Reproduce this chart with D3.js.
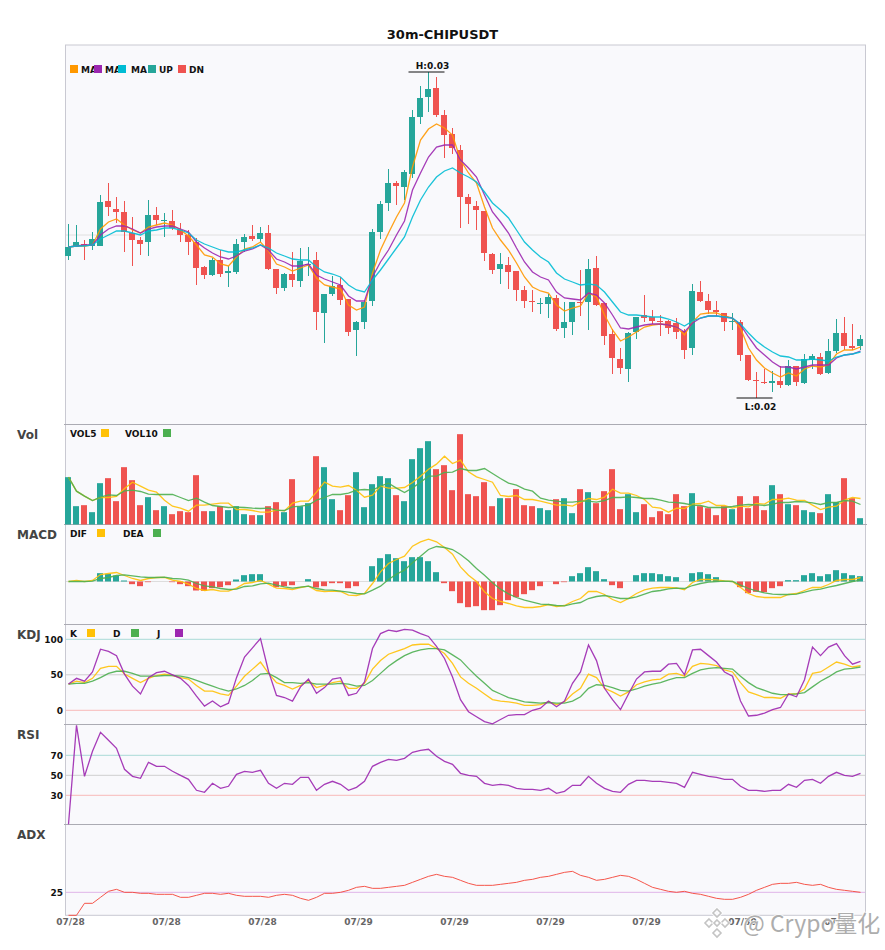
<!DOCTYPE html>
<html>
<head>
<meta charset="utf-8">
<script src="https://cdn.jsdelivr.net/npm/d3@7"></script>
<style>
  html, body { margin: 0; padding: 0; background: #fff; }
  svg { display: block; font-family: "DejaVu Sans", sans-serif; }
  .domain { display: none; }
</style>
</head>
<body>
<svg id="chart" width="885" height="950"></svg>
<script>
// Values. Price has no readable axis, so it is in relative points.
const opens = [169,178,181,179,179,224,216,213,192,185,183,210,204,204,195,190,183,158,150,165,152,153,183,189,186,192,156,137,151,144,160,165,112,131,140,126,95,103,124,193,222,242,238,251,308,328,337,310,291,275,228,219,214,171,156,160,154,135,124,121,121,127,97,103,123,123,157,122,91,66,56,93,110,108,104,104,102,94,77,133,124,115,112,103,103,70,45,43,42,44,40,59,42,65,68,52,74,92,79,79];
const closes = [178,183,179,186,223,218,213,193,185,181,210,205,205,197,190,183,157,150,165,151,154,181,188,186,192,156,137,151,145,164,161,113,131,139,125,93,103,123,193,221,242,239,253,308,327,336,310,290,277,228,221,215,172,155,161,153,135,124,123,122,128,96,103,123,122,156,120,89,67,57,92,108,107,104,103,97,93,75,134,124,115,113,103,104,70,45,44,42,44,40,59,43,66,69,51,74,92,79,77,86];
const highs = [201,200,185,193,230,242,228,224,208,188,225,218,212,215,202,195,187,159,167,175,159,186,191,200,198,200,156,152,173,177,178,173,131,149,148,126,104,125,196,224,256,244,255,315,339,353,348,315,297,280,231,224,214,172,172,168,154,139,135,127,131,130,123,123,155,166,169,122,96,77,93,108,130,115,110,105,107,96,141,144,131,124,112,112,105,70,53,56,54,59,65,59,71,71,72,86,106,108,101,90];
const lows = [165,178,165,175,179,209,202,173,159,170,169,200,188,195,183,170,140,146,149,148,138,151,173,184,183,155,131,134,138,138,149,95,82,129,120,89,69,96,119,186,214,220,225,247,301,313,308,267,271,197,201,195,164,151,141,136,124,117,113,111,107,94,87,90,109,95,119,80,51,51,43,86,103,101,89,91,86,66,70,123,111,109,94,95,64,44,27,41,33,37,39,39,41,56,50,51,72,75,75,75];
const ma5 = [178,179,179,180,196,203,206,200,195,192,198,200,202,200,195,189,180,170,168,161,159,168,176,178,183,174,161,158,154,157,160,147,140,138,136,120,115,118,152,175,192,208,222,258,285,296,301,297,290,265,252,242,218,197,185,175,162,148,138,134,132,120,114,117,119,132,128,110,95,84,88,93,98,100,101,100,98,90,103,111,112,112,109,107,97,77,65,57,52,48,52,49,56,59,58,60,71,75,75,78];
const ma10 = [178,179,180,180,190,196,199,199,196,192,196,198,199,199,196,193,183,177,172,168,166,169,174,176,180,175,166,163,159,159,161,150,146,143,140,129,124,124,148,163,175,190,204,235,252,268,278,280,280,265,257,248,230,213,203,192,177,163,153,148,145,133,127,126,125,132,130,122,110,97,96,98,100,101,101,100,98,93,102,107,109,109,108,107,100,88,77,70,63,58,58,56,58,60,60,60,67,70,71,74];
const ma20 = [178,179,179,180,186,190,194,194,192,190,194,195,197,197,195,192,185,181,178,175,173,173,175,177,180,177,172,169,166,165,165,158,153,151,148,140,135,133,145,155,166,177,188,208,225,238,248,254,257,252,248,243,233,222,215,207,195,183,175,168,163,152,146,143,140,141,140,133,123,113,110,110,109,108,108,106,103,99,104,107,109,109,108,107,101,92,84,78,73,69,68,65,65,66,65,64,68,70,71,73];

const volume = [142,55,58,37,124,139,70,172,133,58,82,43,55,31,40,37,148,40,40,55,43,55,31,28,28,55,67,37,136,55,64,205,172,76,43,88,157,52,121,145,139,88,70,196,229,250,166,178,103,271,91,85,127,55,79,79,106,58,55,49,43,76,79,34,106,97,64,100,166,46,91,37,61,22,40,31,91,55,94,55,49,28,55,46,85,49,85,43,118,91,61,58,43,37,34,91,67,139,79,19];
const vol5 = [142,100,85,72,81,81,84,108,127,115,103,97,73,55,49,40,58,58,61,64,64,45,45,42,37,37,43,41,64,70,70,97,127,115,112,117,103,82,88,115,109,109,111,126,145,166,181,205,183,193,158,143,135,127,87,84,87,75,75,70,64,58,59,55,67,78,75,82,106,94,94,87,75,52,49,37,49,48,61,63,70,57,57,49,55,53,63,61,75,75,79,73,72,58,45,52,55,73,81,78];
const vol10 = [142,100,85,72,82,89,87,101,103,99,91,90,90,90,81,72,79,67,57,54,51,52,51,49,48,49,43,42,53,55,58,73,81,90,90,94,103,105,103,115,124,109,96,110,127,145,145,156,157,168,162,162,168,153,138,124,118,106,100,79,73,70,67,67,70,70,67,72,81,81,83,81,78,78,73,67,66,63,58,57,51,51,51,54,58,60,59,57,61,66,66,69,68,65,60,66,66,72,70,60];

const macdHist = [0,0,0,0,25,23,18,3,-8,-14,-2,0,0,-2,-8,-14,-27,-28,-20,-17,-11,6,19,22,22,0,-17,-14,-11,0,7,-18,-14,-5,-5,-20,-14,0,46,70,82,70,61,73,73,61,28,-5,-29,-65,-77,-74,-86,-86,-71,-56,-47,-38,-26,-14,0,-8,-2,16,25,43,31,7,-11,-20,0,19,25,25,22,16,13,0,25,28,22,13,0,0,-17,-35,-31,-32,-20,-14,4,4,19,25,16,22,34,25,19,16];
const dif = [0,3,0,3,21,24,27,18,9,3,9,12,12,4,0,-8,-21,-27,-24,-29,-29,-20,-6,-3,3,-8,-20,-21,-24,-18,-14,-27,-30,-29,-30,-41,-42,-36,-6,29,54,66,76,106,119,127,119,102,82,44,19,0,-31,-51,-60,-66,-73,-78,-78,-75,-69,-75,-72,-60,-51,-30,-30,-39,-54,-63,-51,-36,-25,-20,-18,-18,-19,-25,-3,6,6,5,2,0,-18,-36,-45,-48,-48,-48,-39,-36,-27,-18,-18,-9,3,6,6,12];
const dea = [0,0,0,1,9,12,18,20,17,14,12,12,13,9,8,4,-6,-13,-16,-21,-24,-23,-15,-13,-7,-5,-11,-16,-20,-17,-14,-21,-25,-26,-29,-32,-36,-37,-26,-14,6,22,34,56,76,96,105,102,96,81,62,39,19,-4,-23,-37,-48,-56,-62,-68,-69,-72,-73,-67,-63,-51,-45,-42,-46,-51,-51,-46,-38,-30,-27,-22,-20,-21,-12,-6,-2,0,1,0,-11,-21,-28,-34,-38,-39,-39,-38,-32,-26,-23,-17,-12,-6,0,4];

const kLine = [37,41,39,45,59,62,62,51,45,39,45,49,51,49,46,44,35,27,27,23,21,34,48,58,68,52,39,35,30,35,42,32,35,39,41,31,31,38,58,70,79,83,87,92,93,93,87,80,66,47,38,31,23,15,13,12,10,7,7,8,12,8,12,23,31,51,46,31,26,20,26,36,40,43,44,51,52,48,62,66,65,63,57,54,39,26,22,18,18,17,23,23,30,52,54,61,68,65,61,63];
const dLine = [37,38,38,41,46,52,55,55,52,48,48,48,49,49,48,46,42,38,34,30,27,30,35,42,51,52,46,39,39,38,39,37,37,37,38,37,34,35,42,52,62,70,77,82,85,87,87,85,78,71,59,48,38,28,23,18,15,12,11,10,11,10,10,13,19,31,36,35,32,28,27,30,34,37,39,43,46,46,52,57,59,60,59,58,48,39,32,28,24,22,22,23,25,33,41,47,54,58,59,61];
const jLine = [37,45,41,54,86,83,77,51,34,23,46,53,55,50,45,35,20,6,13,5,10,46,75,88,101,55,21,18,13,33,44,24,32,44,46,21,24,40,87,108,113,111,114,113,108,104,90,73,47,15,-2,-9,-16,-19,-13,-7,-6,-6,0,3,13,5,13,38,54,92,70,31,15,1,23,44,54,55,55,65,66,50,85,86,77,68,54,48,13,-8,-7,-4,1,4,23,19,43,89,77,89,94,77,65,69];

const rsi = [1,100,49,74,93,85,77,56,49,47,63,59,59,54,50,46,35,33,42,37,39,51,54,53,55,42,37,42,41,48,48,35,41,44,41,35,38,44,59,63,66,65,67,73,75,76,69,64,61,52,50,49,42,40,41,40,37,36,36,35,37,32,34,40,40,49,42,37,34,33,41,45,45,44,44,43,42,38,53,51,49,48,46,46,39,35,35,34,35,35,41,38,45,46,42,49,53,50,49,52];
const adx = [2,2,14,14,20,26,28,25,25,24,24,23,23,23,20,20,22,24,24,23,24,22,21,21,21,20,22,23,22,19,17,20,24,24,25,27,30,31,29,29,30,31,32,35,38,41,43,41,40,37,34,32,32,32,33,34,35,37,38,40,41,43,45,46,42,40,37,38,40,42,41,38,34,30,28,26,25,26,24,23,21,19,18,18,20,23,27,30,33,34,34,35,33,32,33,30,28,27,26,25];

const dateTicks = [0,12,24,36,48,60,72,84,96];
const dateLabels = ["07/28","07/28","07/28","07/29","07/29","07/29","07/29","07/30","07/30"];
const highIndex = 45, lowIndex = 86;
const highLabel = "H:0.03", lowLabel = "L:0.02";

// Colours
const UP = "#26A69A", DN = "#EF5350";
const ORANGE = "#FF9800", PURPLE = "#9C27B0", CYAN = "#00BCD4";
const YELLOW = "#FFC107", GREEN = "#4CAF50";

const svg = d3.select("#chart");

// One band per candle, shared by every panel
const xScale = d3.scaleBand()
  .domain(d3.range(opens.length))
  .range([64, 864])
  .paddingInner(0.25)
  .paddingOuter(0.125);
const xMid = i => xScale(i) + xScale.bandwidth() / 2 + 0.5;

// Panels, top to bottom
const panels = {
  main: { top: 45, bottom: 424.5, label: null },
  vol: { top: 424.5, bottom: 524.5, label: "Vol" },
  macd: { top: 524.5, bottom: 624.5, label: "MACD" },
  kdj: { top: 624.5, bottom: 724.5, label: "KDJ" },
  rsi: { top: 724.5, bottom: 824.5, label: "RSI" },
  adx: { top: 824.5, bottom: 915.3, label: "ADX" }
};

const yMain = d3.scaleLinear().domain([0, 380]).range([425, 45]);
const yVol = d3.scaleLinear().domain([0, 300]).range([524.5, 424.5]);
const yMacd = d3.scaleLinear().domain([-129, 171]).range([624.5, 524.5]);
const yKdj = d3.scaleLinear().domain([0, 100]).range([710.3, 639.3]);
const yRsi = d3.scaleLinear().domain([0, 100]).range([825.3, 725.3]);
const yAdx = d3.scaleLinear().domain([2, 92.7]).range([915.3, 824.7]);

// Panel backgrounds and frame
svg.append("rect")
  .attr("x", 65.5).attr("y", 45)
  .attr("width", 800).attr("height", 870.3)
  .attr("fill", "#F9F9FC")
  .attr("stroke", "#C9C9D2")
  .attr("stroke-width", 1);

Object.values(panels).forEach(p => {
  if (p.label) {
    svg.append("line")
      .attr("x1", 64).attr("x2", 867)
      .attr("y1", p.top).attr("y2", p.top)
      .attr("stroke", "#ABABB3")
      .attr("stroke-width", 1);

    svg.append("text")
      .attr("x", 17).attr("y", p.top + 14.5)
      .attr("font-size", 12).attr("font-weight", "bold")
      .attr("fill", "#444")
      .text(p.label);
  }
});

// Title
svg.append("text")
  .attr("x", 442.5).attr("y", 39)
  .attr("text-anchor", "middle")
  .attr("font-size", 13).attr("font-weight", "bold")
  .attr("fill", "#111")
  .text("30m-CHIPUSDT");

// Reference lines
function hLine(y, color) {
  svg.append("line")
    .attr("x1", 66).attr("x2", 865)
    .attr("y1", y).attr("y2", y)
    .attr("stroke", color)
    .attr("stroke-width", 1);
}
hLine(yMain(190), "#E0E0E0");
hLine(yMacd(0), "#DDDDDD");
hLine(yKdj(100), "#A9DAD6");
hLine(yKdj(50), "#CFCFCF");
hLine(yKdj(0), "#F8B9B8");
hLine(yRsi(70), "#A9DAD6");
hLine(yRsi(50), "#CFCFCF");
hLine(yRsi(30), "#F8B9B8");
hLine(yAdx(25), "#E0B5E8");

// Value labels on the left of the indicator panels
function leftAxis(scale, values) {
  svg.append("g")
    .attr("transform", "translate(63,0)")
    .call(d3.axisLeft(scale).tickValues(values).tickSize(0).tickPadding(0).tickFormat(d3.format("d")))
    .call(g => g.selectAll("text")
      .attr("font-family", "DejaVu Sans")
      .attr("font-size", 9)
      .attr("font-weight", "bold")
      .attr("fill", "#111"));
}
leftAxis(yKdj, [0, 50, 100]);
leftAxis(yRsi, [30, 50, 70]);
leftAxis(yAdx, [25]);

// Date labels under the last panel
svg.append("g")
  .attr("transform", "translate(1.5,915.5)")
  .call(d3.axisBottom(d3.scalePoint().domain(d3.range(opens.length)).range([68.5, 860.5]))
    .tickValues(dateTicks)
    .tickSize(0)
    .tickPadding(3)
    .tickFormat((d, i) => dateLabels[i]))
  .call(g => g.selectAll("text")
    .attr("font-family", "DejaVu Sans")
    .attr("font-size", 9)
    .attr("font-weight", "bold")
    .attr("fill", "#666"));

// Candles: wick first, body on top
const candles = svg.append("g");
candles.selectAll("line")
  .data(opens)
  .enter()
  .append("line")
  .attr("x1", (d, i) => xMid(i))
  .attr("x2", (d, i) => xMid(i))
  .attr("y1", (d, i) => yMain(highs[i]))
  .attr("y2", (d, i) => yMain(lows[i]))
  .attr("stroke", (d, i) => closes[i] >= d ? UP : DN)
  .attr("stroke-width", 1);

candles.selectAll("rect")
  .data(opens)
  .enter()
  .append("rect")
  .attr("x", (d, i) => xScale(i))
  .attr("width", xScale.bandwidth())
  .attr("y", (d, i) => yMain(Math.max(d, closes[i])))
  .attr("height", (d, i) => Math.max(1, Math.abs(yMain(d) - yMain(closes[i]))))
  .attr("fill", (d, i) => closes[i] >= d ? UP : DN);

// Volume bars
svg.append("g").selectAll("rect")
  .data(volume)
  .enter()
  .append("rect")
  .attr("x", (d, i) => xScale(i))
  .attr("width", xScale.bandwidth())
  .attr("y", d => yVol(d))
  .attr("height", d => yVol(0) - yVol(d))
  .attr("fill", (d, i) => closes[i] >= opens[i] ? UP : DN);

// MACD histogram
svg.append("g").selectAll("rect")
  .data(macdHist)
  .enter()
  .append("rect")
  .attr("x", (d, i) => xScale(i))
  .attr("width", xScale.bandwidth())
  .attr("y", d => yMacd(Math.max(d, 0)))
  .attr("height", d => Math.abs(yMacd(d) - yMacd(0)))
  .attr("fill", d => d >= 0 ? UP : DN);

// Line series
function drawLine(values, scale, color, width = 1.3) {
  const line = d3.line()
    .x((d, i) => xMid(i))
    .y(d => scale(d));
  svg.append("path")
    .datum(values)
    .attr("fill", "none")
    .attr("stroke", color)
    .attr("stroke-width", width)
    .attr("stroke-opacity", 0.9)
    .attr("d", line);
}
drawLine(ma5, yMain, ORANGE);
drawLine(ma10, yMain, PURPLE);
drawLine(ma20, yMain, CYAN);
drawLine(vol5, yVol, YELLOW);
drawLine(vol10, yVol, GREEN);
drawLine(dif, yMacd, YELLOW);
drawLine(dea, yMacd, GREEN);
drawLine(kLine, yKdj, YELLOW);
drawLine(dLine, yKdj, GREEN);
drawLine(jLine, yKdj, PURPLE);
drawLine(rsi, yRsi, PURPLE);
drawLine(adx, yAdx, "#F44336", 1);

// High / low markers
function extreme(index, value, label, labelDy) {
  svg.append("line")
    .attr("x1", xMid(index) - 20).attr("x2", xMid(index) + 16)
    .attr("y1", yMain(value)).attr("y2", yMain(value))
    .attr("stroke", "#111")
    .attr("stroke-width", 1);
  svg.append("text")
    .attr("x", xMid(index) + 4).attr("y", yMain(value) + labelDy)
    .attr("text-anchor", "middle")
    .attr("font-size", 9).attr("font-weight", "bold")
    .attr("fill", "#111")
    .text(label);
}
extreme(highIndex, highs[highIndex], highLabel, -3.5);
extreme(lowIndex, lows[lowIndex], lowLabel, 12);

// Legends: text is drawn before each swatch so a swatch can sit over the text
function legend(items, y) {
  items.forEach(item => {
    svg.append("text")
      .attr("x", item.tx).attr("y", y + 6.5)
      .attr("font-size", 9).attr("font-weight", "bold")
      .attr("fill", "#111")
      .text(item.name);
    svg.append("rect")
      .attr("x", item.sx).attr("y", y - 1)
      .attr("width", 8).attr("height", 8)
      .attr("fill", item.color);
  });
}
legend([
  { name: "MA", tx: 81, sx: 70, color: ORANGE },
  { name: "MA", tx: 105, sx: 94, color: PURPLE },
  { name: "MA", tx: 131, sx: 118, color: CYAN },
  { name: "UP", tx: 159, sx: 148, color: UP },
  { name: "DN", tx: 189, sx: 178, color: DN }
], 66);
legend([
  { name: "VOL5", tx: 70, sx: 101, color: YELLOW },
  { name: "VOL10", tx: 125, sx: 163, color: GREEN }
], 430);
legend([
  { name: "DIF", tx: 70, sx: 97, color: YELLOW },
  { name: "DEA", tx: 123, sx: 153, color: GREEN }
], 530);
legend([
  { name: "K", tx: 70, sx: 87, color: YELLOW },
  { name: "D", tx: 113, sx: 131, color: GREEN },
  { name: "J", tx: 157, sx: 175, color: PURPLE }
], 630);

// Watermark in the bottom right corner, with a pale halo over what lies under it
const mark = svg.append("g").attr("fill", "none");
[[717, 913, 4], [709, 923, 4], [725, 923, 4], [717, 933, 4], [717, 923, 3]].forEach(([cx, cy, r]) => {
  const d = `M${cx},${cy - r}L${cx + r},${cy}L${cx},${cy + r}L${cx - r},${cy}Z`;
  mark.append("path").attr("d", d).attr("stroke", "#FFFFFF").attr("stroke-width", 3.5).attr("stroke-opacity", 0.8);
  mark.append("path").attr("d", d).attr("stroke", "#C4C4C4").attr("stroke-width", 1.6);
});
svg.append("text")
  .attr("x", 743).attr("y", 932)
  .attr("font-family", "Noto Sans CJK SC")
  .attr("font-size", 23)
  .attr("fill", "#ADADAD")
  .attr("stroke", "#FFFFFF")
  .attr("stroke-width", 2)
  .attr("stroke-opacity", 0.75)
  .attr("paint-order", "stroke")
  .text("@ Crypo量化");
</script>
</body>
</html>
